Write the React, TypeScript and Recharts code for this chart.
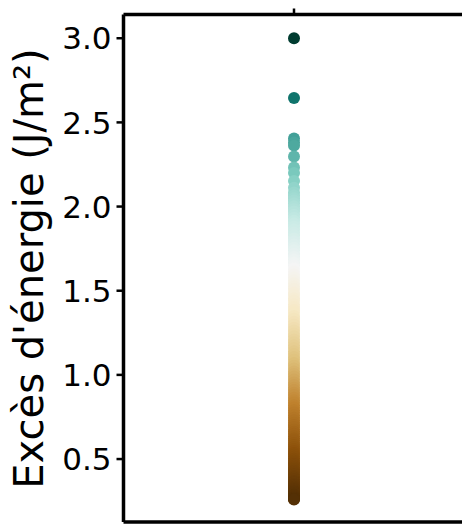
import { ScatterChart, Scatter, XAxis, YAxis } from 'recharts'

// excess energy values (J/m²), one strip
const energy = [
  3.0, 2.645, 2.405, 2.38, 2.362, 2.298, 2.232, 2.2, 2.152, 2.112, 2.084,
  2.066, 2.05, 2.036, 2.02, 2.002, 1.985, 1.97,
  1.952, 1.934, 1.916, 1.9, 1.882, 1.864, 1.846, 1.83, 1.81, 1.792, 1.775, 1.756,
  1.74, 1.72, 1.702, 1.685, 1.666, 1.65, 1.632, 1.614, 1.596, 1.58, 1.562, 1.545,
  1.526, 1.51, 1.49, 1.474, 1.456, 1.44, 1.42, 1.404, 1.386, 1.37, 1.35, 1.334,
  1.316, 1.3, 1.28, 1.264, 1.246, 1.23, 1.21, 1.194, 1.176, 1.16, 1.14, 1.124,
  1.106, 1.09, 1.07, 1.055, 1.038, 1.02, 1.005, 0.99, 0.972, 0.955, 0.94, 0.924,
  0.91, 0.894, 0.88, 0.864, 0.85, 0.836, 0.82, 0.806, 0.79, 0.776, 0.76, 0.746,
  0.73, 0.716, 0.702, 0.69, 0.676, 0.662, 0.65, 0.636, 0.622, 0.61, 0.596, 0.584,
  0.572, 0.56, 0.548, 0.536, 0.525, 0.514, 0.502, 0.49, 0.48, 0.47, 0.46, 0.45,
  0.44, 0.43, 0.42, 0.41, 0.4, 0.39, 0.38, 0.37, 0.362, 0.352, 0.344, 0.336,
  0.328, 0.32, 0.312, 0.305, 0.298, 0.29, 0.284, 0.278, 0.272, 0.267, 0.263, 0.26,
]
const yTicks = [0.5, 1.0, 1.5, 2.0, 2.5, 3.0]
const yLabel = "Excès d'énergie (J/m²)"

// BrBG colormap stops
const brbg = [
  '#543005', '#8c510a', '#bf812d', '#dfc27d', '#f6e8c3', '#f5f5f5',
  '#c7eae5', '#80cdc1', '#35978f', '#01665e', '#003c30',
]

const vMin = Math.min(...energy)
const vMax = Math.max(...energy)

function hex(c: string) {
  return [1, 3, 5].map((i) => parseInt(c.slice(i, i + 2), 16))
}

function colorFor(v: number) {
  const t = Math.max(0, Math.min(1, (v - vMin) / (vMax - vMin)))
  const pos = t * (brbg.length - 1)
  const i = Math.min(Math.floor(pos), brbg.length - 2)
  const f = pos - i
  const a = hex(brbg[i])
  const b = hex(brbg[i + 1])
  const rgb = a.map((ch, k) => Math.round(ch + (b[k] - ch) * f))
  return `rgb(${rgb.join(',')})`
}

const data = energy.map((y) => ({ x: 1, y }))

const font = 'DejaVu Sans, sans-serif'

const Dot = (props: any) => {
  const { cx, cy, payload } = props
  return <circle cx={cx} cy={cy} r={6} fill={colorFor(payload.y)} />
}

const YTick = (props: any) => {
  const { x, y, payload } = props
  return (
    <text x={x} y={y} dy="0.36em" textAnchor="end" fill="#000" fontSize={31} fontFamily={font}>
      {Number(payload.value).toFixed(1)}
    </text>
  )
}

const spine = { stroke: '#000', strokeWidth: 3.5 }
const tickStroke = { stroke: '#000', strokeWidth: 2.5 }

export default function App() {
  return (
    <div style={{ position: 'absolute', left: 0, top: 0, width: 462, height: 525, overflow: 'hidden', background: '#fff' }}>
      <ScatterChart width={480} height={540} margin={{ top: 4.5, right: 0, bottom: 8, left: 0 }}>
        <XAxis
          xAxisId="top"
          orientation="top"
          type="number"
          dataKey="x"
          domain={[0, 2]}
          ticks={[1]}
          tickFormatter={() => ''}
          height={10}
          tickSize={6}
          axisLine={spine}
          tickLine={tickStroke}
        />
        <XAxis
          xAxisId="bottom"
          orientation="bottom"
          type="number"
          dataKey="x"
          domain={[0, 2]}
          ticks={[1]}
          tickFormatter={() => ''}
          height={10}
          tickSize={6}
          axisLine={spine}
          tickLine={tickStroke}
        />
        <YAxis
          type="number"
          dataKey="y"
          domain={[0.126, 3.141]}
          ticks={yTicks}
          width={123.5}
          tickSize={7}
          tickMargin={5}
          axisLine={spine}
          tickLine={tickStroke}
          tick={YTick}
          label={{
            value: yLabel,
            content: () => (
              <text
                x={43}
                y={268.5}
                transform="rotate(-90 43 268.5)"
                textAnchor="middle"
                fill="#000"
                fontSize={40}
                fontFamily={font}
              >
                {yLabel}
              </text>
            ),
          }}
        />
        <YAxis
          yAxisId="right"
          orientation="right"
          type="number"
          domain={[0.126, 3.141]}
          width={15.5}
          tick={false}
          tickLine={false}
          axisLine={spine}
        />
        <Scatter data={data} xAxisId="top" shape={Dot} isAnimationActive={false} />
      </ScatterChart>
    </div>
  )
}
